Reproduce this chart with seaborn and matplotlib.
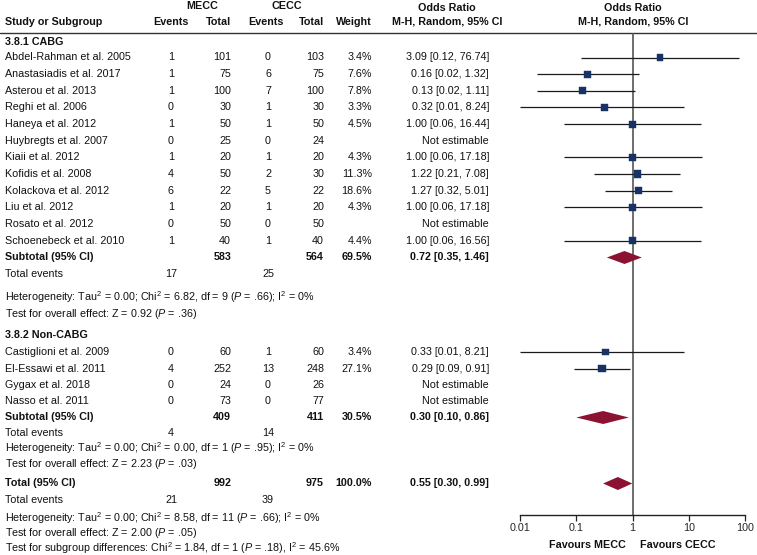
import numpy as np
import pandas as pd
import matplotlib
matplotlib.use("Agg")
import matplotlib.pyplot as plt
import seaborn as sns

# ---- data ----
cabg_studies = ["Abdel-Rahman et al. 2005", "Anastasiadis et al. 2017", "Asterou et al. 2013",
                "Reghi et al. 2006", "Haneya et al. 2012", "Huybregts et al. 2007",
                "Kiaii et al. 2012", "Kofidis et al. 2008", "Kolackova et al. 2012",
                "Liu et al. 2012", "Rosato et al. 2012", "Schoenebeck et al. 2010"]
cabg_mecc_events = [1, 1, 1, 0, 1, 0, 1, 4, 6, 1, 0, 1]
cabg_mecc_total = [101, 75, 100, 30, 50, 25, 20, 50, 22, 20, 50, 40]
cabg_cecc_events = [0, 6, 7, 1, 1, 0, 1, 2, 5, 1, 0, 1]
cabg_cecc_total = [103, 75, 100, 30, 50, 24, 20, 30, 22, 20, 50, 40]
cabg_weight = [3.4, 7.6, 7.8, 3.3, 4.5, np.nan, 4.3, 11.3, 18.6, 4.3, np.nan, 4.4]
cabg_or = [3.09, 0.16, 0.13, 0.32, 1.00, np.nan, 1.00, 1.22, 1.27, 1.00, np.nan, 1.00]
cabg_lo = [0.12, 0.02, 0.02, 0.01, 0.06, np.nan, 0.06, 0.21, 0.32, 0.06, np.nan, 0.06]
cabg_hi = [76.74, 1.32, 1.11, 8.24, 16.44, np.nan, 17.18, 7.08, 5.01, 17.18, np.nan, 16.56]

noncabg_studies = ["Castiglioni et al. 2009", "El-Essawi et al. 2011", "Gygax et al. 2018", "Nasso et al. 2011"]
noncabg_mecc_events = [0, 4, 0, 0]
noncabg_mecc_total = [60, 252, 24, 73]
noncabg_cecc_events = [1, 13, 0, 0]
noncabg_cecc_total = [60, 248, 26, 77]
noncabg_weight = [3.4, 27.1, np.nan, np.nan]
noncabg_or = [0.33, 0.29, np.nan, np.nan]
noncabg_lo = [0.01, 0.09, np.nan, np.nan]
noncabg_hi = [8.21, 0.91, np.nan, np.nan]

# subtotal / total: [mecc_total, cecc_total, weight, or, lo, hi, mecc_events, cecc_events]
sub_cabg = [583, 564, 69.5, 0.72, 0.35, 1.46, 17, 25]
sub_noncabg = [409, 411, 30.5, 0.30, 0.10, 0.86, 4, 14]
overall = [992, 975, 100.0, 0.55, 0.30, 0.99, 21, 39]

het_cabg = "Heterogeneity: Tau$^2$ = 0.00; Chi$^2$ = 6.82, df = 9 ($\\mathit{P}$ = .66); I$^2$ = 0%"
eff_cabg = "Test for overall effect: Z = 0.92 ($\\mathit{P}$ = .36)"
het_non = "Heterogeneity: Tau$^2$ = 0.00; Chi$^2$ = 0.00, df = 1 ($\\mathit{P}$ = .95); I$^2$ = 0%"
eff_non = "Test for overall effect: Z = 2.23 ($\\mathit{P}$ = .03)"
het_all = "Heterogeneity: Tau$^2$ = 0.00; Chi$^2$ = 8.58, df = 11 ($\\mathit{P}$ = .66); I$^2$ = 0%"
eff_all = "Test for overall effect: Z = 2.00 ($\\mathit{P}$ = .05)"
sub_diff = "Test for subgroup differences: Chi$^2$ = 1.84, df = 1 ($\\mathit{P}$ = .18), I$^2$ = 45.6%"

xticks = [0.01, 0.1, 1, 10, 100]
xtick_labels = ["0.01", "0.1", "1", "10", "100"]

# ---- layout (pixel rows) ----
W, H = 757, 555
cabg_rows = [57.5 + 16.65 * i for i in range(12)]
noncabg_rows = [352, 368.5, 385, 401.5]
y_sub_cabg, y_ev_cabg = 257.5, 274
y_sub_non, y_ev_non = 417.5, 433.5
y_total, y_ev_total = 483.5, 500
axis_y = 515

navy = "#173366"
crimson = "#8c1232"
fs = 7.75

sns.set_theme(style="white")
plt.rcParams["font.family"] = ["Liberation Sans", "DejaVu Sans"]
plt.rcParams["mathtext.fontset"] = "custom"
plt.rcParams["mathtext.rm"] = "Liberation Sans"
plt.rcParams["mathtext.it"] = "Liberation Sans:italic"
plt.rcParams["mathtext.bf"] = "Liberation Sans:bold"
plt.rcParams["mathtext.default"] = "regular"

fig = plt.figure(figsize=(W / 100, H / 100), dpi=100)
fig.patch.set_facecolor("white")

tx = fig.add_axes([0, 0, 1, 1])
tx.set_xlim(0, W)
tx.set_ylim(H, 0)
tx.axis("off")


def t(x, y, s, ha="left", bold=False, va="center"):
    tx.text(x, y, s, ha=ha, va=va, fontsize=fs, color="#111111",
            fontweight="bold" if bold else "normal")


def fmt_ci(o, l, h):
    if np.isnan(o):
        return "Not estimable"
    return f"{o:.2f} [{l:.2f}, {h:.2f}]"


# headers
t(202, 6, "MECC", "center", True)
t(287, 6, "CECC", "center", True)
t(447, 8, "Odds Ratio", "center", True)
t(633, 8, "Odds Ratio", "center", True)
t(5, 22, "Study or Subgroup", "left", True)
t(171, 22, "Events", "center", True)
t(231, 22, "Total", "right", True)
t(266, 22, "Events", "center", True)
t(324, 22, "Total", "right", True)
t(372, 22, "Weight", "right", True)
t(447, 22, "M-H, Random, 95% CI", "center", True)
t(633, 22, "M-H, Random, 95% CI", "center", True)
tx.plot([0, W], [32.5, 32.5], color="#333333", lw=1.0)


def study_rows(names, me, mt, ce, ct, w, o, l, h, rows):
    for i, y in enumerate(rows):
        t(5, y, names[i])
        t(171, y, str(me[i]), "center")
        t(231, y, str(mt[i]), "right")
        t(268, y, str(ce[i]), "center")
        t(324, y, str(ct[i]), "right")
        if not np.isnan(w[i]):
            t(372, y, f"{w[i]:.1f}%", "right")
        t(489, y, fmt_ci(o[i], l[i], h[i]), "right")


def summary_rows(label, s, y, yev):
    t(5, y, label, bold=True)
    t(231, y, str(s[0]), "right", True)
    t(324, y, str(s[1]), "right", True)
    t(372, y, f"{s[2]:.1f}%", "right", True)
    t(489, y, fmt_ci(s[3], s[4], s[5]), "right", True)
    t(5, yev, "Total events")
    t(171, yev, str(s[6]), "center")
    t(268, yev, str(s[7]), "center")


t(5, 42, "3.8.1 CABG", bold=True)
study_rows(cabg_studies, cabg_mecc_events, cabg_mecc_total, cabg_cecc_events, cabg_cecc_total,
           cabg_weight, cabg_or, cabg_lo, cabg_hi, cabg_rows)
summary_rows("Subtotal (95% CI)", sub_cabg, y_sub_cabg, y_ev_cabg)
t(5, 301, het_cabg, va="baseline")
t(5, 317, eff_cabg, va="baseline")

t(5, 335, "3.8.2 Non-CABG", bold=True)
study_rows(noncabg_studies, noncabg_mecc_events, noncabg_mecc_total, noncabg_cecc_events,
           noncabg_cecc_total, noncabg_weight, noncabg_or, noncabg_lo, noncabg_hi, noncabg_rows)
summary_rows("Subtotal (95% CI)", sub_noncabg, y_sub_non, y_ev_non)
t(5, 452, het_non, va="baseline")
t(5, 467, eff_non, va="baseline")

summary_rows("Total (95% CI)", overall, y_total, y_ev_total)
t(5, 522, het_all, va="baseline")
t(5, 536, eff_all, va="baseline")
t(5, 551.5, sub_diff, va="baseline")

# ---- forest panel ----
x0, x1 = 520, 745
ax = fig.add_axes([x0 / W, (H - axis_y) / H, (x1 - x0) / W, axis_y / H])
ax.set_facecolor("none")
ax.set_xscale("log")
ax.set_xlim(0.01, 100)
ax.set_ylim(axis_y, 0)

df = pd.DataFrame({
    "or": cabg_or + noncabg_or,
    "lo": cabg_lo + noncabg_lo,
    "hi": cabg_hi + noncabg_hi,
    "weight": cabg_weight + noncabg_weight,
    "row": cabg_rows + noncabg_rows,
}).dropna()

ax.vlines(1, 32.5, axis_y, color="#555555", lw=1.2, zorder=1)
ax.hlines(df["row"], df["lo"], df["hi"], color="#1a1a1a", lw=0.9, zorder=2)
sns.scatterplot(data=df, x="or", y="row", size="weight", sizes=(24, 32), marker="s",
                color=navy, edgecolor=navy, linewidth=0.3, legend=False, ax=ax, zorder=3)

for s, y in [(sub_cabg, y_sub_cabg), (sub_noncabg, y_sub_non), (overall, y_total)]:
    o, l, h = s[3], s[4], s[5]
    ax.fill([l, o, h, o], [y, y - 6.5, y, y + 6.5], color=crimson, lw=0, zorder=3)

for sp in ["left", "top", "right"]:
    ax.spines[sp].set_visible(False)
ax.spines["bottom"].set_color("#222222")
ax.spines["bottom"].set_linewidth(1.0)
ax.set_xticks(xticks)
ax.set_xticklabels(xtick_labels)
ax.xaxis.set_minor_locator(matplotlib.ticker.NullLocator())
ax.tick_params(axis="x", direction="out", length=4, width=0.9, color="#222222",
               labelsize=fs, pad=2, bottom=True)
ax.set_yticks([])
ax.set_xlabel("")
ax.set_ylabel("")

t(587, 545, "Favours MECC", "center", True)
t(678, 545, "Favours CECC", "center", True)

fig.savefig("out.png", dpi=100, facecolor="white")
